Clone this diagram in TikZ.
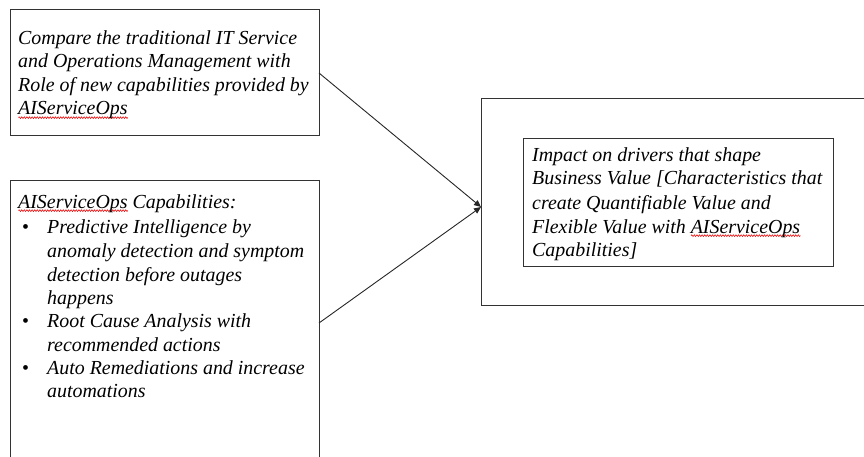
\documentclass[tikz,border=0pt]{standalone}
\usepackage{fontspec}
\setmainfont{Liberation Serif}
\usetikzlibrary{arrows.meta,decorations.pathmorphing}
\newsavebox\sqbox
\newlength\sqlen
\newcommand\squig[1]{\sbox\sqbox{#1}\setlength\sqlen{\wd\sqbox}\rlap{\raisebox{-3.8pt}[0pt][0pt]{\tikz[x=1pt,y=1pt]\draw[red!90!black,line width=0.55pt,decorate,decoration={zigzag,amplitude=0.9pt,segment length=2.6pt}] (0,0)--(\sqlen,0);}}\usebox\sqbox}
\begin{document}
\begin{tikzpicture}[x=1pt,y=-1pt,
  box/.style={draw=black!80,line width=1pt,inner sep=0,outer sep=0},
  txt/.style={anchor=base west,inner sep=0,font=\fontsize{19.9}{23}\selectfont\itshape},
  blt/.style={anchor=base west,inner sep=0,font=\fontsize{19.9}{23}\selectfont},
  conn/.style={draw=black!85,line width=0.9pt,-{Triangle[length=7pt,width=6pt]}}]
\useasboundingbox (0,0) rectangle (864,457);
\clip (0,0) rectangle (864,457);
\node[box,minimum width=309pt,minimum height=126pt] (box1) at (164.5,73) {};
\node[box,minimum width=309pt,minimum height=284pt] (box2) at (164.5,323) {};
\node[box,minimum width=390pt,minimum height=206pt] (box3) at (676,202) {};
\node[box,minimum width=310pt,minimum height=127pt] (box4) at (678,202.5) {};
% box1 text
\node[txt] (a1) at (18,45) {Compare the traditional IT Service};
\node[txt] (a2) at (18,68) {and Operations Management with};
\node[txt] (a3) at (18,92) {Role of new capabilities provided by};
\node[txt] (a4) at (18,115) {\squig{AIServiceOps}};
% box2 text
\node[txt] (b0) at (18,208) {\squig{AIServiceOps} Capabilities:};
\node[blt] (d1) at (22,233) {•};
\node[blt] (d2) at (22,327) {•};
\node[blt] (d3) at (22,374) {•};
\node[txt] (b1) at (47,233) {Predictive Intelligence by};
\node[txt] (b2) at (47,257) {anomaly detection and symptom};
\node[txt] (b3) at (47,281) {detection before outages};
\node[txt] (b4) at (47,304) {happens};
\node[txt] (b5) at (47,327) {Root Cause Analysis with};
\node[txt] (b6) at (47,351) {recommended actions};
\node[txt] (b7) at (47,374) {Auto Remediations and increase};
\node[txt] (b8) at (47,397) {automations};
% box4 text
\node[txt] (c1) at (532,162) {Impact on drivers that shape};
\node[txt] (c2) at (532,185) {Business Value [Characteristics that};
\node[txt] (c3) at (532,209) {create Quantifiable Value and};
\node[txt] (c4) at (532,233) {Flexible Value with \squig{AIServiceOps}};
\node[txt] (c5) at (532,256) {Capabilities]};
% connectors
\coordinate (tip) at (481,207);
\draw[conn] (box1.east) -- (tip);
\draw[conn] (box2.east) -- (tip);
\end{tikzpicture}
\end{document}
